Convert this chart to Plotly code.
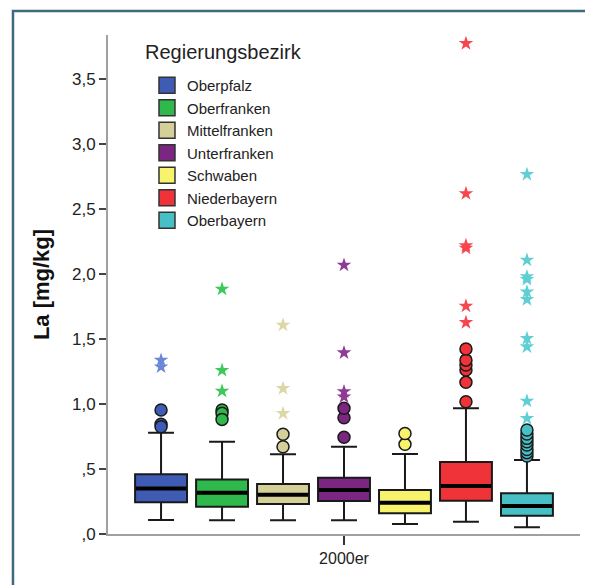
import plotly.graph_objects as go

regions = ["Oberpfalz", "Oberfranken", "Mittelfranken", "Unterfranken",
           "Schwaben", "Niederbayern", "Oberbayern"]
fill_colors = ["#3f5cb4", "#2fb84b", "#d5d098", "#7b2681", "#f8f36c", "#ef3339", "#46c0c5"]
star_colors = ["#6a86d8", "#3cc85a", "#dcd7a6", "#8e3b95", "#f6f07a", "#f5474d", "#5fcfd4"]

lower_fence = [0.108, 0.105, 0.105, 0.105, 0.077, 0.095, 0.051]
q1 = [0.244, 0.210, 0.231, 0.254, 0.159, 0.256, 0.141]
median = [0.351, 0.318, 0.302, 0.338, 0.241, 0.369, 0.215]
q3 = [0.460, 0.420, 0.385, 0.433, 0.338, 0.554, 0.313]
upper_fence = [0.780, 0.710, 0.613, 0.672, 0.615, 0.967, 0.569]

outliers = [
    [0.954, 0.845, 0.825],
    [0.954, 0.930, 0.882],
    [0.672, 0.767],
    [0.744, 0.895, 0.967],
    [0.690, 0.774],
    [1.018, 1.167, 1.262, 1.300, 1.338, 1.423],
    [0.600, 0.626, 0.650, 0.685, 0.710, 0.736, 0.770, 0.800],
]
extremes = [
    [1.287, 1.338],
    [1.100, 1.260, 1.885],
    [0.928, 1.120, 1.608],
    [1.056, 1.095, 1.395, 2.069],
    [],
    [1.628, 1.754, 2.200, 2.220, 2.620, 3.775],
    [0.890, 1.023, 1.441, 1.505, 1.805, 1.864, 1.960, 1.980, 2.108, 2.767],
]

y_tickvals = [0, 0.5, 1.0, 1.5, 2.0, 2.5, 3.0, 3.5]
y_ticktext = [",0", ",5", "1,0", "1,5", "2,0", "2,5", "3,0", "3,5"]
x_label = "2000er"
legend_title = "Regierungsbezirk"
y_title = "La [mg/kg]"

slot = 0.1292
box_w = 0.110
FONT = "Liberation Sans, Arial, sans-serif"

fig = go.Figure()
n = len(regions)
for i, name in enumerate(regions):
    pos = (i - (n - 1) / 2) * slot
    fig.add_trace(go.Box(
        x=[pos], q1=[q1[i]], median=[median[i]], q3=[q3[i]],
        lowerfence=[lower_fence[i]], upperfence=[upper_fence[i]],
        width=box_w, whiskerwidth=0.5, fillcolor=fill_colors[i],
        line=dict(color="#1a1a1a", width=2), boxpoints=False,
        showlegend=False, hoverinfo="skip"))
    # thick median line
    fig.add_trace(go.Box(
        x=[pos], q1=[median[i]], median=[median[i]], q3=[median[i]],
        lowerfence=[median[i]], upperfence=[median[i]],
        width=box_w * 0.97, whiskerwidth=0, fillcolor="black",
        line=dict(color="black", width=4), boxpoints=False,
        showlegend=False, hoverinfo="skip"))
    fig.add_trace(go.Scatter(
        x=[pos] * len(outliers[i]), y=outliers[i], mode="markers",
        marker=dict(symbol="circle", size=12, color=fill_colors[i],
                    line=dict(color="#1a1a1a", width=1.5)),
        showlegend=False, hoverinfo="skip"))
    if extremes[i]:
        fig.add_trace(go.Scatter(
            x=[pos] * len(extremes[i]), y=extremes[i], mode="markers",
            marker=dict(symbol="star", size=11, color=star_colors[i],
                        line=dict(width=0)),
            showlegend=False, hoverinfo="skip"))
    # legend entry
    fig.add_trace(go.Scatter(
        x=[None], y=[None], mode="markers", name=name,
        marker=dict(symbol="square", size=16, color=fill_colors[i],
                    line=dict(color="#333333", width=1.5)),
        showlegend=True))

fig.update_layout(
    width=593, height=585,
    margin=dict(l=100, r=21, t=27, b=59),
    paper_bgcolor="white", plot_bgcolor="white",
    font=dict(family=FONT, size=16, color="#222222"),
    showlegend=True,
    legend=dict(
        x=0.0826, y=0.932, xanchor="left", yanchor="top",
        bgcolor="rgba(0,0,0,0)", borderwidth=0,
        font=dict(size=15, color="#222222"),
        tracegroupgap=0, itemsizing="trace",
    ),
    annotations=[dict(text=legend_title, xref="paper", yref="paper",
                      x=0.0742, y=0.966, xanchor="left", yanchor="middle",
                      showarrow=False, font=dict(size=20, color="#222222"))],
    xaxis=dict(
        range=[-0.5, 0.5], tickvals=[0], ticktext=[x_label],
        showline=True, linecolor="#a0a0a0", linewidth=2,
        ticks="outside", ticklen=9, tickwidth=2, tickcolor="#333333",
        showgrid=False, zeroline=False, tickfont=dict(size=16),
        automargin=False,
    ),
    yaxis=dict(
        range=[0, 3.84], tickvals=y_tickvals, ticktext=y_ticktext,
        showline=True, linecolor="#a0a0a0", linewidth=2,
        ticks="outside", ticklen=7, tickwidth=2, tickcolor="#444444",
        showgrid=False, zeroline=False, tickfont=dict(size=17),
        title=dict(text="<b>" + y_title + "</b>", font=dict(size=22, color="#111111"),
                   standoff=16),
        automargin=False,
    ),
    shapes=[dict(type="rect", xref="paper", yref="paper",
                 x0=-0.2013, x1=1.06, y0=-0.2, y1=1.048,
                 line=dict(color="#3d6a80", width=2.5), layer="below")],
)

fig.write_html("out.html")
